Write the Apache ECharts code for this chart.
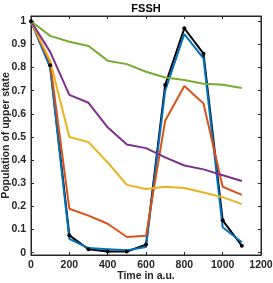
<!DOCTYPE html>
<html><head><meta charset="utf-8">
<script src="https://cdn.jsdelivr.net/npm/echarts@6/dist/echarts.min.js"></script>
<style>html,body{margin:0;padding:0;background:#fff}#c{width:273px;height:283px}</style>
</head><body><div id="c"></div>
<script>
var times = [0, 100, 200, 300, 400, 500, 600, 700, 800, 900, 1000, 1100];
var blackVals  = [1.0, 0.81, 0.075, 0.015, 0.005, 0.005, 0.035, 0.725, 0.97, 0.86, 0.14, 0.03];
var blueVals   = [1.0, 0.80, 0.06, 0.02, 0.015, 0.01, 0.025, 0.70, 0.945, 0.84, 0.11, 0.045];
var orangeVals = [1.0, 0.82, 0.19, 0.16, 0.125, 0.068, 0.073, 0.57, 0.72, 0.645, 0.285, 0.25];
var yellowVals = [1.0, 0.83, 0.50, 0.478, 0.39, 0.293, 0.275, 0.285, 0.28, 0.26, 0.24, 0.21];
var purpleVals = [1.0, 0.868, 0.682, 0.648, 0.542, 0.468, 0.452, 0.412, 0.377, 0.36, 0.335, 0.31];
var greenVals  = [1.0, 0.937, 0.912, 0.893, 0.83, 0.815, 0.782, 0.757, 0.746, 0.73, 0.726, 0.712];
var yTicks = [0, 0.1, 0.2, 0.3, 0.4, 0.5, 0.6, 0.7, 0.8, 0.9, 1];
var xTicks = [0, 200, 400, 600, 800, 1000, 1200];

function pairs(v){ return times.map(function(t,i){ return [t, v[i]]; }); }
var txt = '#262626';
var font = 'Liberation Sans, Arial, sans-serif';
function line(name, vals, color, marker){
  return {
    name: name, type: 'line', data: pairs(vals),
    showSymbol: !!marker, symbol: 'circle', symbolSize: marker ? 4 : 0,
    itemStyle: {color: color, borderWidth: 0},
    lineStyle: {color: color, width: 2},
    animation: false, z: 2
  };
}
function tick(vals){ return {show: true, inside: true, length: 3, lineStyle: {color: txt, width: 1}, customValues: vals}; }
var axLine = {show: true, onZero: false, lineStyle: {color: txt, width: 1}};
var chart = echarts.init(document.getElementById('c'), null, {renderer: 'canvas'});
chart.setOption({
  backgroundColor: '#fff',
  animation: false,
  title: {
    text: 'FSSH', left: 146, top: 3, textAlign: 'center', padding: 0,
    textStyle: {fontFamily: font, fontWeight: 'bold', fontSize: 11, color: '#000'}
  },
  grid: {left: 31, right: 12, top: 16, bottom: 28, containLabel: false, outerBoundsMode: 'none',
    show: true, borderColor: txt, borderWidth: 1, backgroundColor: 'transparent'},
  xAxis: [
    {
      type: 'value', min: 0, max: 1200, position: 'bottom',
      name: 'Time in a.u.', nameLocation: 'middle', nameGap: 16, nameMoveOverlap: false,
      nameTextStyle: {fontFamily: font, fontWeight: 'bold', fontSize: 10.5, color: txt},
      axisLine: axLine, axisTick: tick(xTicks), splitLine: {show: false},
      axisLabel: {fontFamily: font, fontWeight: 'bold', fontSize: 10.5, color: txt, margin: 5,
        customValues: xTicks, formatter: function(v){ return String(v); }}
    },
    {
      type: 'value', min: 0, max: 1200, position: 'top',
      axisLine: axLine, axisTick: tick(xTicks), splitLine: {show: false},
      axisLabel: {show: false}
    }
  ],
  yAxis: [
    {
      type: 'value', min: -0.01, max: 1.023, position: 'left',
      name: 'Population of upper state', nameLocation: 'middle', nameGap: 19, nameMoveOverlap: false,
      nameTextStyle: {fontFamily: font, fontWeight: 'bold', fontSize: 10.5, color: txt},
      axisLine: axLine, axisTick: tick(yTicks), splitLine: {show: false},
      axisLabel: {fontFamily: font, fontWeight: 'bold', fontSize: 10.5, color: txt, margin: 5,
        customValues: yTicks, formatter: function(v){ return String(Math.round(v*10)/10); }}
    },
    {
      type: 'value', min: -0.01, max: 1.023, position: 'right',
      axisLine: axLine, axisTick: tick(yTicks), splitLine: {show: false},
      axisLabel: {show: false}
    }
  ],
  series: [
    line('black', blackVals, '#000000', true),
    line('blue', blueVals, '#0072BD', false),
    line('orange', orangeVals, '#D95319', false),
    line('yellow', yellowVals, '#EDB120', false),
    line('purple', purpleVals, '#7E2F8E', false),
    line('green', greenVals, '#77AC30', false)
  ]
});
</script>
</body></html>
